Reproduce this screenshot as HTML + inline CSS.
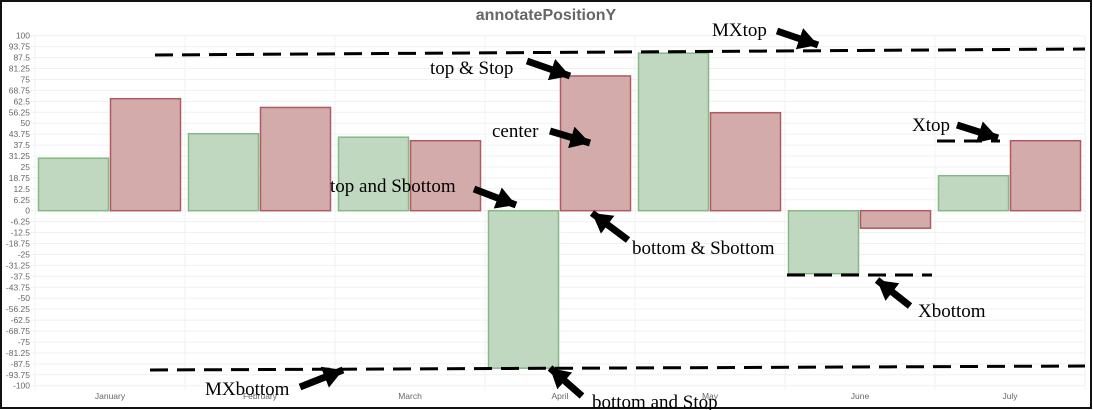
<!DOCTYPE html><html><head><style>body{margin:0;background:#fff}svg{display:block}</style></head><body>
<svg id="s" width="1093" height="410" xmlns="http://www.w3.org/2000/svg" font-family="Liberation Sans, sans-serif">
<defs><marker id="a" markerWidth="2.8" markerHeight="3.2" refX="2.8" refY="1.6" orient="auto" markerUnits="strokeWidth"><path d="M0,0L2.8,1.6L0,3.2z" fill="#000"/></marker></defs>
<rect x="1" y="1" width="1090" height="407" fill="#fff" stroke="#111" stroke-width="2"/>
<text x="546" y="20" text-anchor="middle" font-size="16" font-weight="bold" fill="#666">annotatePositionY</text>
<g id="g"></g>
<g font-family="Liberation Serif, serif" font-size="19" fill="#000">
<line x1="155" y1="55" x2="1085" y2="49" stroke="#000" stroke-width="3" stroke-dasharray="18,9"/>
<line x1="150" y1="370" x2="1085" y2="366" stroke="#000" stroke-width="3" stroke-dasharray="18,9"/>
<line x1="937" y1="141" x2="1000" y2="141" stroke="#000" stroke-width="3" stroke-dasharray="18,9"/>
<line x1="787" y1="275" x2="932" y2="275" stroke="#000" stroke-width="3" stroke-dasharray="18,9"/>
<g stroke="#000" stroke-width="7" marker-end="url(#a)">
<line x1="777" y1="31" x2="818" y2="45"/>
<line x1="527" y1="61" x2="570" y2="76"/>
<line x1="550" y1="131" x2="590" y2="143"/>
<line x1="474" y1="189" x2="516" y2="205"/>
<line x1="628" y1="240" x2="592" y2="213"/>
<line x1="957" y1="125" x2="998" y2="138"/>
<line x1="910" y1="306" x2="877" y2="280"/>
<line x1="300" y1="387" x2="343" y2="370"/>
<line x1="582" y1="396" x2="550" y2="368"/>
</g>
<text x="712" y="36">MXtop</text>
<text x="430" y="74">top &amp; Stop</text>
<text x="492" y="137">center</text>
<text x="330" y="192">top and Sbottom</text>
<text x="632" y="254">bottom &amp; Sbottom</text>
<text x="912" y="131">Xtop</text>
<text x="918" y="317">Xbottom</text>
<text x="205" y="395">MXbottom</text>
<text x="592" y="408">bottom and Stop</text>
</g>
</svg>
<script>
var g=document.getElementById('g'),h='';
function y(v){return 210.7-1.75*v}
for(var i=0;i<=32;i++){var v=100-6.25*i,yy=y(v);h+='<line x1="31" x2="1085" y1="'+yy+'" y2="'+yy+'" stroke="#f0f0f0"/>';h+='<text x="30" y="'+(yy+3)+'" text-anchor="end" font-size="8.5" fill="#666">'+(+v.toFixed(2))+'</text>';}
for(var i=0;i<=7;i++){var x=35+150*i;h+='<line x1="'+x+'" x2="'+x+'" y1="35" y2="390" stroke="#f0f0f0"/>';}
var m=['January','February','March','April','May','June','July'],G=[30,44,42,-90,90,-36,20],R=[64,59,40,77,56,-10,40];
for(var i=0;i<7;i++){var x=35+150*i;
function b(x0,v,f,s){var a=y(v),z=y(0);h+='<rect x="'+x0+'" y="'+Math.min(a,z)+'" width="70" height="'+Math.abs(a-z)+'" fill="'+f+'" stroke="'+s+'" stroke-width="1.5"/>';}
b(x+3.5,G[i],'#c0d8c0','#86b886');b(x+75.5,R[i],'#d4abab','#b05a60');
h+='<text x="'+(x+75)+'" y="399" text-anchor="middle" font-size="8.5" fill="#666">'+m[i]+'</text>';}
g.innerHTML=h;
</script>
</body></html>
